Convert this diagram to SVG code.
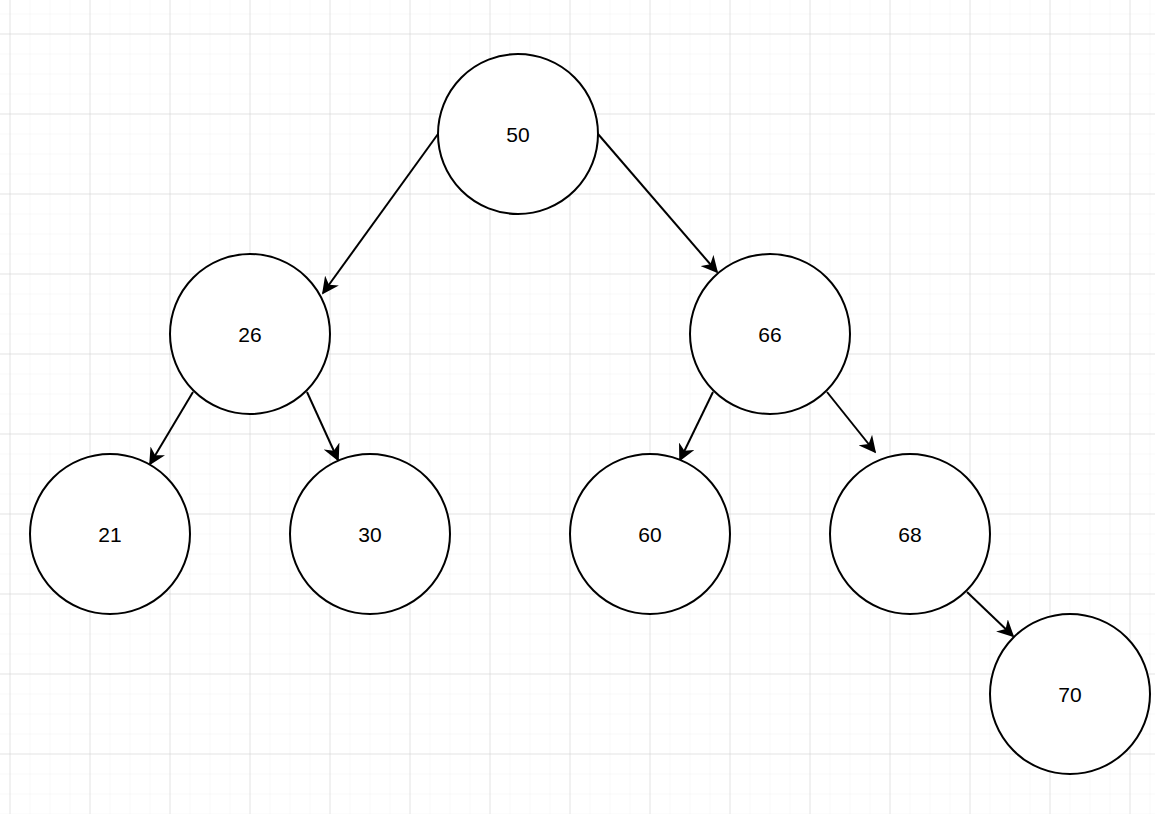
<svg xmlns="http://www.w3.org/2000/svg" width="1155" height="814" viewBox="0 0 1155 814">
<defs>
<pattern id="minor" x="9.5" y="13.5" width="20" height="20" patternUnits="userSpaceOnUse"><path d="M0 0H20M0 0V20" fill="none" stroke="#f2f2f2" stroke-width="1"/></pattern>
<pattern id="major" x="9.5" y="33.5" width="80" height="80" patternUnits="userSpaceOnUse"><path d="M0 0H80M0 0V80" fill="none" stroke="#d0d0d0" stroke-width="1"/></pattern>
<marker id="arr" viewBox="0 0 10 10" refX="9" refY="5" markerWidth="17" markerHeight="17" markerUnits="userSpaceOnUse" orient="auto"><path d="M0 0L10 5L0 10L3 5Z" fill="#000"/></marker>
</defs>
<style>
circle{fill:#fff;stroke:#000;stroke-width:2}
text{font-family:"Liberation Sans",Arial,sans-serif;font-size:21px;text-anchor:middle;dominant-baseline:central;fill:#000}
.e line{stroke:#000;stroke-width:2;marker-end:url(#arr)}
</style>
<rect width="1155" height="814" fill="#fff"/>
<rect width="1155" height="814" fill="url(#minor)"/>
<rect width="1155" height="814" fill="url(#major)"/>
<g class="e" id="connectors">
<line x1="438" y1="134" x2="323" y2="293"/>
<line x1="598" y1="134" x2="717" y2="272"/>
<line x1="193" y1="392" x2="150" y2="464"/>
<line x1="307" y1="392" x2="338" y2="460"/>
<line x1="713" y1="392" x2="680" y2="460"/>
<line x1="827" y1="392" x2="875" y2="452"/>
<line x1="967" y1="592" x2="1013" y2="636"/>
</g>
<g id="n50"><circle cx="518" cy="134" r="80"/><text x="518" y="134">50</text></g>
<g id="n26"><circle cx="250" cy="334" r="80"/><text x="250" y="334">26</text></g>
<g id="n66"><circle cx="770" cy="334" r="80"/><text x="770" y="334">66</text></g>
<g id="n21"><circle cx="110" cy="534" r="80"/><text x="110" y="534">21</text></g>
<g id="n30"><circle cx="370" cy="534" r="80"/><text x="370" y="534">30</text></g>
<g id="n60"><circle cx="650" cy="534" r="80"/><text x="650" y="534">60</text></g>
<g id="n68"><circle cx="910" cy="534" r="80"/><text x="910" y="534">68</text></g>
<g id="n70"><circle cx="1070" cy="694" r="80"/><text x="1070" y="694">70</text></g>
</svg>
